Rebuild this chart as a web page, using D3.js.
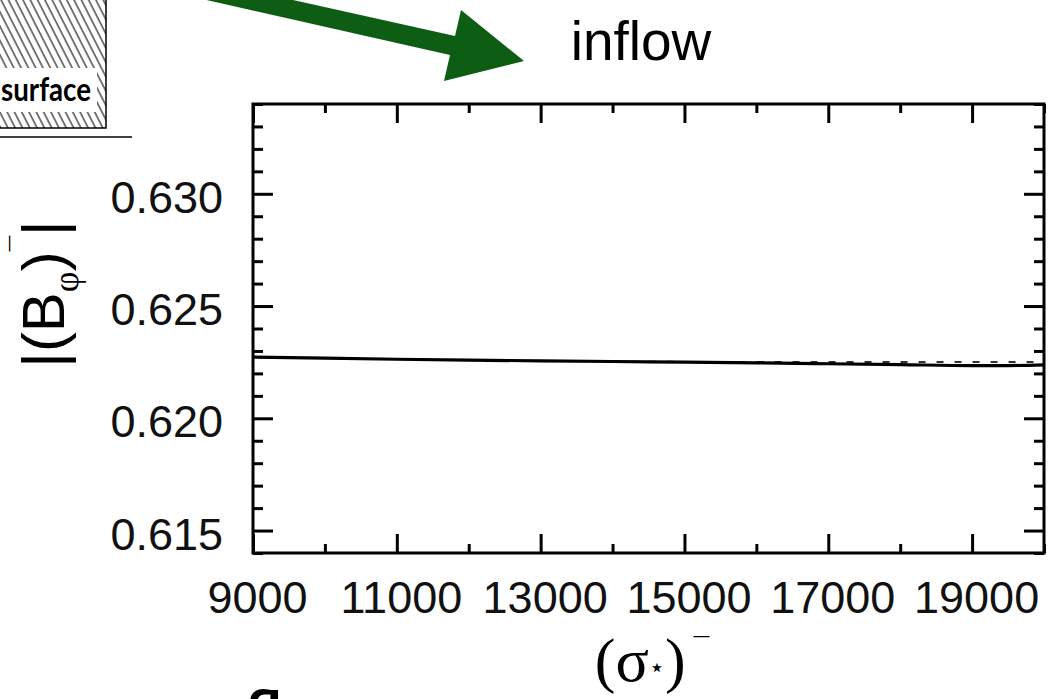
<!DOCTYPE html>
<html>
<head>
<meta charset="utf-8">
<script src="https://cdn.jsdelivr.net/npm/d3@7"></script>
<style>
  body { margin: 0; background: #fff; }
  svg { display: block; }
</style>
</head>
<body>
<div id="chart"></div>
<script>
// values
const sigma = [9000, 10000, 11000, 12000, 13000, 14000, 15000, 16000, 17000, 18000, 19000, 19500, 20000];
const bphi = [0.62273, 0.62268, 0.62263, 0.62259, 0.62256, 0.62253, 0.62250, 0.62247, 0.62243, 0.62239, 0.62235, 0.62235, 0.62238];
const refSigma = [14000, 16000, 18000, 20000];
const refBphi = [0.62252, 0.62251, 0.62251, 0.62251];
const xMajor = [9000, 11000, 13000, 15000, 17000, 19000];
const xMinor = [10000, 12000, 14000, 16000, 18000, 20000];
const yMajor = [0.615, 0.620, 0.625, 0.630];
const yMinor = d3.range(614, 635).map(v => v / 1000).filter(v => !yMajor.some(m => Math.abs(m - v) < 1e-6));

const W = 1049, H = 699;
const plotL = 253, plotR = 1044, plotT = 104, plotB = 553;

const svg = d3.select('#chart').append('svg')
    .attr('width', W)
    .attr('height', H);

svg.append('rect').attr('width', W).attr('height', H).attr('fill', '#fff');

// hatched "surface" box in the corner
const defs = svg.append('defs');
const pat = defs.append('pattern')
    .attr('id', 'hatch')
    .attr('patternUnits', 'userSpaceOnUse')
    .attr('width', 6.5)
    .attr('height', 10)
    .attr('patternTransform', 'rotate(-27)');
pat.append('line')
    .attr('x1', 1).attr('y1', 0).attr('x2', 1).attr('y2', 10)
    .attr('stroke', '#222').attr('stroke-width', 1.2);

svg.append('rect')
    .attr('x', -3).attr('y', -3)
    .attr('width', 109).attr('height', 131)
    .attr('fill', 'url(#hatch)')
    .attr('stroke', '#000')
    .attr('stroke-width', 1.5);
svg.append('rect')
    .attr('x', 0).attr('y', 68)
    .attr('width', 97).attr('height', 44)
    .attr('fill', '#fff');
svg.append('text')
    .attr('x', 1).attr('y', 101)
    .attr('textLength', 90)
    .attr('lengthAdjust', 'spacingAndGlyphs')
    .style('font-family', 'Lato, "Open Sans", sans-serif')
    .style('font-weight', 'bold')
    .style('font-size', '33px')
    .text('surface');
svg.append('line')
    .attr('x1', 0).attr('x2', 132)
    .attr('y1', 137).attr('y2', 137)
    .attr('stroke', '#000').attr('stroke-width', 1.5);

// green arrow pointing at the panel title
const arrow = [[203, -20], [455, 36], [461, 10], [524, 61], [444, 81], [450, 55], [118, -20]];
svg.append('polygon')
    .attr('points', arrow.map(p => p.join(',')).join(' '))
    .attr('fill', '#0e5d14');

svg.append('text')
    .attr('x', 641).attr('y', 60)
    .attr('text-anchor', 'middle')
    .style('font-family', '"Liberation Sans", Arial, sans-serif')
    .style('font-size', '55px')
    .text('inflow');

// scales
const x = d3.scaleLinear().domain([9000, 20000]).range([plotL, plotR]);
const y = d3.scaleLinear().domain([0.614, 0.634]).range([plotB, plotT]);

const font = '"Liberation Sans", Arial, sans-serif';

function styleAxis(g) {
    g.select('.domain').remove();
    g.selectAll('.tick line').attr('stroke', '#000').attr('stroke-width', 3);
    g.selectAll('.tick text')
        .attr('fill', '#111')
        .style('font-family', font)
        .style('font-size', '45px');
}

// bottom
svg.append('g').attr('transform', `translate(0,${plotB})`)
    .call(d3.axisBottom(x).tickValues(xMajor).tickSize(-19).tickPadding(28).tickFormat(d3.format('d')))
    .call(styleAxis)
    .call(g => g.selectAll('.tick text').attr('dx', 4));
svg.append('g').attr('transform', `translate(0,${plotB})`)
    .call(d3.axisBottom(x).tickValues(xMinor).tickSize(-9).tickFormat(''))
    .call(styleAxis);
// top
svg.append('g').attr('transform', `translate(0,${plotT})`)
    .call(d3.axisTop(x).tickValues(xMajor).tickSize(-19).tickFormat(''))
    .call(styleAxis);
svg.append('g').attr('transform', `translate(0,${plotT})`)
    .call(d3.axisTop(x).tickValues(xMinor).tickSize(-9).tickFormat(''))
    .call(styleAxis);
// left
svg.append('g').attr('transform', `translate(${plotL},0)`)
    .call(d3.axisLeft(y).tickValues(yMajor).tickSize(-20).tickPadding(30).tickFormat(d3.format('.3f')))
    .call(styleAxis)
    .call(g => g.selectAll('.tick text').attr('dy', '0.41em'));
svg.append('g').attr('transform', `translate(${plotL},0)`)
    .call(d3.axisLeft(y).tickValues(yMinor).tickSize(-10).tickFormat(''))
    .call(styleAxis);
// right
svg.append('g').attr('transform', `translate(${plotR},0)`)
    .call(d3.axisRight(y).tickValues(yMajor).tickSize(-20).tickFormat(''))
    .call(styleAxis);
svg.append('g').attr('transform', `translate(${plotR},0)`)
    .call(d3.axisRight(y).tickValues(yMinor).tickSize(-10).tickFormat(''))
    .call(styleAxis);

// frame
svg.append('rect')
    .attr('x', plotL).attr('y', plotT)
    .attr('width', plotR - plotL).attr('height', plotB - plotT)
    .attr('fill', 'none')
    .attr('stroke', '#000')
    .attr('stroke-width', 3);

// curves
const line = d3.line().x(d => x(d[0])).y(d => y(d[1])).curve(d3.curveMonotoneX);
svg.append('path')
    .datum(refSigma.map((s, i) => [s, refBphi[i]]))
    .attr('d', line)
    .attr('fill', 'none')
    .attr('stroke', '#333')
    .attr('stroke-width', 2)
    .attr('stroke-dasharray', '7,11');
svg.append('path')
    .datum(sigma.map((s, i) => [s, bphi[i]]))
    .attr('d', line)
    .attr('fill', 'none')
    .attr('stroke', '#000')
    .attr('stroke-width', 3.2);

// y label |(B_phi)^-|
const yl = svg.append('text')
    .attr('transform', 'translate(64,294) rotate(-90)')
    .attr('text-anchor', 'middle')
    .style('font-family', font)
    .style('font-size', '60px');
yl.append('tspan').text('|(B');
yl.append('tspan').attr('dy', 14).style('font-size', '36px').style('font-family', '"Liberation Serif", serif').text('φ');
yl.append('tspan').attr('dy', -14).text(')');
yl.append('tspan').attr('dy', -34).style('font-size', '28px').text('¯');
yl.append('tspan').attr('dy', 34).text('|');

// x label (sigma_*)^-
const xl = svg.append('text')
    .attr('x', 652).attr('y', 681)
    .attr('text-anchor', 'middle')
    .style('font-family', '"Liberation Serif", "DejaVu Serif", serif')
    .style('font-size', '62px');
xl.append('tspan').text('(σ');
xl.append('tspan').attr('dy', -5).style('font-size', '26px').style('font-family', '"DejaVu Sans", sans-serif').text('⋆');
xl.append('tspan').attr('dy', 5).text(')');
xl.append('tspan').attr('dx', 8).attr('dy', -24).style('font-size', '28px').style('font-family', font).text('¯');

// cut-off heading at the bottom edge
svg.append('text')
    .attr('x', 244).attr('y', 735)
    .style('font-family', 'Lato, "Open Sans", sans-serif')
    .style('font-weight', 'bold')
    .style('font-size', '62px')
    .text('fl');
</script>
</body>
</html>
